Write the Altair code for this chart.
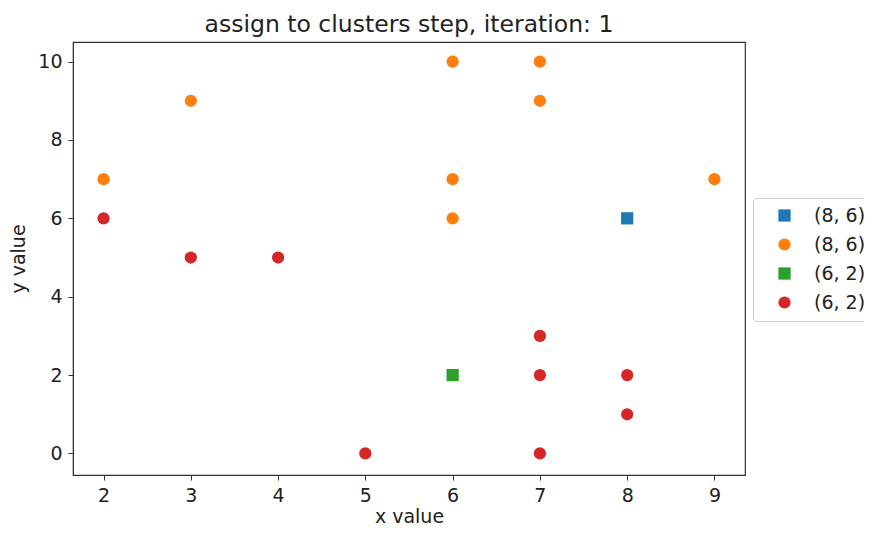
import altair as alt
import pandas as pd

# data
c1_x = [8]
c1_y = [6]
orange_x = [2, 3, 6, 7, 7, 6, 6, 9]
orange_y = [7, 9, 10, 10, 9, 7, 6, 7]
c2_x = [6]
c2_y = [2]
red_x = [2, 3, 4, 5, 7, 7, 7, 8, 8]
red_y = [6, 5, 5, 0, 3, 2, 0, 2, 1]
groups = ["a", "b", "c", "d"]
labels = ["(8, 6)", "(8, 6)", "(6, 2)", "(6, 2)"]
colors = ["#1f77b4", "#ff7f0e", "#2ca02c", "#d62728"]
shapes = ["square", "circle", "square", "circle"]

rows = []
for g, xs, ys in zip(groups, [c1_x, orange_x, c2_x, red_x], [c1_y, orange_y, c2_y, red_y]):
    for x, y in zip(xs, ys):
        rows.append({"x": x, "y": y, "g": g})
df = pd.DataFrame(rows)
df["order"] = df["g"].map({g: i for i, g in enumerate(groups)})

label_map = "{" + ",".join(f"'{g}':'{l}'" for g, l in zip(groups, labels)) + "}"

font = "DejaVu Sans"

chart = alt.Chart(df).mark_point(filled=True, opacity=1, size=150).encode(
    x=alt.X("x:Q", scale=alt.Scale(domain=[1.65, 9.35], nice=False, zero=False),
            axis=alt.Axis(title="x value", values=[2, 3, 4, 5, 6, 7, 8, 9], format="d",
                          titleY=47, titleBaseline="alphabetic")),
    y=alt.Y("y:Q", scale=alt.Scale(domain=[-0.55, 10.5], nice=False, zero=False),
            axis=alt.Axis(title="y value", values=[0, 2, 4, 6, 8, 10], format="d",
                          titlePadding=9)),
    color=alt.Color("g:N", scale=alt.Scale(domain=groups, range=colors),
                    legend=alt.Legend(title=None, orient="none", legendX=680, legendY=156,
                                      labelExpr=f"{label_map}[datum.label]",
                                      padding=8, rowPadding=9, symbolSize=150,
                                      labelFontSize=19, labelFont=font, labelColor="#222",
                                      labelOffset=20, symbolOffset=14,
                                      strokeColor="#cccccc", cornerRadius=4, fillColor="white")),
    shape=alt.Shape("g:N", scale=alt.Scale(domain=groups, range=shapes)),
    order=alt.Order("order:Q"),
).properties(
    width=672, height=433,
    title=alt.Title("assign to clusters step, iteration: 1", fontSize=23.5, font=font,
                    fontWeight="normal", color="#222", offset=6),
    autosize=alt.AutoSizeParams(type="none"),
    padding={"left": 65, "top": 34, "right": 119, "bottom": 50},
).configure_view(
    stroke="#333", strokeWidth=1.2
).configure_axis(
    grid=False, domainColor="#333", tickColor="#333", tickSize=5,
    labelFont=font, titleFont=font, labelFontSize=19, titleFontSize=19,
    labelColor="#222", titleColor="#222", titleFontWeight="normal", labelPadding=6,
)

chart.save("out.html", embed_options={"renderer": "svg", "actions": False})
